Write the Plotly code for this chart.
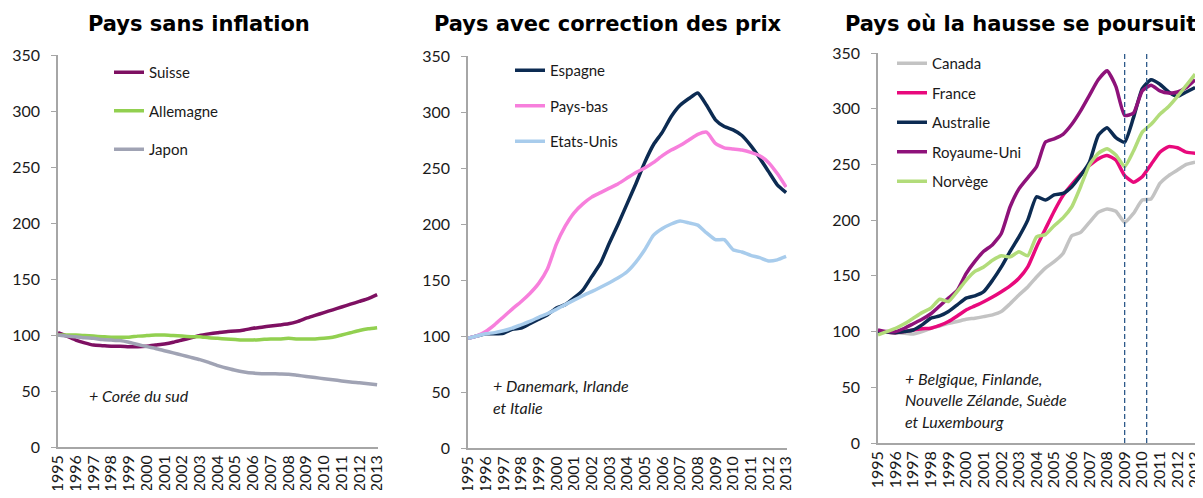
import plotly.graph_objects as go

# ---- data (half-year steps, index 1995 = 100) ----
years = [1995 + 0.5 * i for i in range(37)]
tick_years = list(range(1995, 2014))
tick_labels = [str(y) for y in tick_years]

suisse = [102, 99, 95.5, 93, 91, 90.5, 90, 90, 89.6, 89.5, 90, 91, 92, 93.5, 95.5, 97.5, 99.7, 101, 102, 103,
          103.5, 104.5, 106, 107, 108, 109, 110, 112, 115, 117.5, 120, 122.5, 125, 127.5, 130, 132.5, 136]
allemagne = [100, 100, 100, 99.5, 99, 98.5, 98, 98, 98, 99, 99.5, 100, 100, 99.5, 99, 98.5, 98.5, 97.5, 97, 96.5,
             96, 95.5, 95.5, 96, 96.5, 96.5, 97, 96.5, 96.5, 96.5, 97, 98, 100, 102, 104, 105.5, 106.5]
japon = [100, 99, 98.5, 97.5, 97, 96, 95.5, 95, 93.5, 91.5, 89.6, 88, 86, 84, 82, 80, 78, 75.5, 72.6, 70.5,
         68.5, 67, 66, 65.5, 65.4, 65.2, 65, 64, 63, 62, 61, 60, 59, 58, 57.3, 56.5, 55.6]

espagne = [98, 100, 102, 102, 102.5, 106, 107, 111, 115, 119, 125, 128, 134, 141, 153, 165, 183, 200, 218, 236,
           255, 271, 282, 296, 306, 312, 317, 306, 293, 287, 284, 279, 270, 259, 247, 235, 228]
pays_bas = [98, 100, 104, 110, 117, 124, 130.6, 138, 147, 160, 182, 198, 210, 218, 224, 228, 232, 236, 241, 246,
            250, 255, 261, 266, 270, 275, 280, 282, 272, 268, 267, 266, 264, 261, 255, 245, 233]
etats_unis = [98, 100, 102, 103, 104.7, 107, 110, 113, 116.7, 120, 123.8, 128, 132, 136, 139.6, 143.5, 147.6, 152,
              157.4, 166, 177, 190, 196, 200, 202.7, 201, 199, 192, 186, 186, 177, 175, 172, 170, 167, 168, 171]

canada = [100, 99.5, 99, 98.5, 97.8, 100, 103, 105, 107.4, 109, 111, 112, 113.4, 115, 118, 125, 132.8, 140, 149, 157,
          162.7, 170, 186, 189, 198, 207, 210, 208, 198, 206, 218, 219, 233, 240, 245, 250, 252]
france = [100, 99.5, 99, 100, 101.4, 102.5, 103, 105.5, 109, 114, 119.4, 123, 126.8, 131, 135.8, 141, 147.8, 158,
          176, 192, 208, 222, 232, 241, 249, 255, 258, 254, 240, 234, 239, 250, 261, 266, 265, 261, 260]
australie = [100, 99.5, 99, 100, 101.4, 106, 112, 114, 118, 124, 130, 132, 135.8, 146, 158, 172, 185, 200, 221, 218,
             222.6, 224, 230, 240, 252, 276, 283, 274, 270, 292, 318, 326, 322, 315, 311, 315, 319]
royaume_uni = [101.5, 100, 100, 103, 107, 111, 116, 123, 130, 137, 152, 163, 172, 178, 188, 212, 228, 238, 248, 270,
               273, 277, 286, 298, 312, 326, 334, 320, 294, 296, 316, 321, 316, 314, 315, 319, 326]
norvege = [97, 100, 103, 107, 112, 117, 121, 129, 127, 136, 146, 154, 158, 164, 168, 167, 171.7, 168, 185, 187,
           195, 202, 212, 230, 249.5, 260, 264, 258.5, 248, 262, 279, 286, 295, 302, 311, 321, 331]

ref_years = [2009.0, 2010.25]

panels = [
    ("Pays sans inflation", [("Suisse", suisse, "#7E1062"), ("Allemagne", allemagne, "#92D050"),
                             ("Japon", japon, "#A0A3B4")]),
    ("Pays avec correction des prix", [("Espagne", espagne, "#0C2B52"), ("Pays-bas", pays_bas, "#F77FDC"),
                                       ("Etats-Unis", etats_unis, "#A8CCEC")]),
    ("Pays où la hausse se poursuit", [("Canada", canada, "#C3C3C3"), ("France", france, "#E8097C"),
                                       ("Australie", australie, "#0C2B52"), ("Royaume-Uni", royaume_uni, "#8E127A"),
                                       ("Norvège", norvege, "#B2DC7A")]),
]
notes = [
    ["+ Corée du sud"],
    ["+ Danemark, Irlande", "et Italie"],
    ["+ Belgique, Finlande,", "Nouvelle Zélande, Suède", "et Luxembourg"],
]

# page body has an 8px margin: figure pixel = window pixel - OFF
OFF = 8
W, H = 1203 - OFF, 498 - 2 * OFF
# window-pixel geometry of each plot area: (x_left, x_right, y_top(350), y_bottom(0))
geo = [(58, 378, 55, 447), (468, 787, 56, 448), (878, 1196, 53, 443)]
title_x = [199, 608, 1020]
legend_pos = [(109, 56, 16), (510, 54, 13), (892, 47, 7)]
note_pos = [(1996.63, [46.4]), (1996.3, [55.4, 36.6]), (1996.41, [58.3, 38.6, 18.9])]


def px(v):
    return (v - OFF) / W


def py(v):
    return (H - (v - OFF)) / H


FONT = "Lato, Calibri, sans-serif"
fig = go.Figure()
tick_font = dict(family=FONT, size=16, color="#1a1a1a")

for i, (title, series) in enumerate(panels):
    n = i + 1
    xa = "x" if n == 1 else f"x{n}"
    ya = "y" if n == 1 else f"y{n}"
    lg = "legend" if n == 1 else f"legend{n}"
    for name, vals, col in series:
        fig.add_trace(go.Scatter(x=years, y=vals, name=name, mode="lines",
                                 line=dict(color=col, width=3.5, shape="spline", smoothing=0.5),
                                 xaxis=xa, yaxis=ya, legend=lg, legendgroup=f"{n}-{name}"))
    xl, xr, yt, yb = geo[i]
    fig.update_layout({
        f"xaxis{'' if n == 1 else n}": dict(
            domain=[px(xl), px(xr)], range=[1995, 2013.05], anchor=ya, tickmode="array",
            tickvals=tick_years, ticktext=tick_labels, tickangle=-90, showgrid=False, zeroline=False,
            showline=True, linecolor="#A6A6A6", linewidth=1.5, ticks="", automargin=False,
            ticklabeloverflow="allow",
            tickfont=dict(family=FONT, size=16, color="#1a1a1a")),
        f"yaxis{'' if n == 1 else n}": dict(
            domain=[py(yb), py(yt)], range=[0, 350], anchor=xa, tickmode="array",
            tickvals=[0, 50, 100, 150, 200, 250, 300, 350], showgrid=False, zeroline=False,
            showline=True, linecolor="#A6A6A6", linewidth=1.5, ticks="outside", ticklen=5,
            tickcolor="#A6A6A6", tickfont=tick_font, ticklabelstandoff=8, automargin=False),
    })
    lx, ly, gap = legend_pos[i]
    fig.update_layout({lg: dict(x=px(lx), y=py(ly), xanchor="left", yanchor="top",
                                bgcolor="rgba(0,0,0,0)", tracegroupgap=gap,
                                traceorder="grouped",
                                font=dict(family=FONT, size=15, color="#1a1a1a"))})
    fig.add_annotation(text=f"<b>{title}</b>", xref="paper", yref="paper",
                       x=px(title_x[i]), y=py(24),
                       xanchor="center", yanchor="middle", showarrow=False,
                       font=dict(family="DejaVu Sans, Verdana, sans-serif", size=21, color="#000000"))
    nx, nys = note_pos[i]
    for txt, yv in zip(notes[i], nys):
        fig.add_annotation(text=f"<i>{txt}</i>", xref=xa, yref=ya, x=nx, y=yv, xanchor="left",
                           yanchor="middle", showarrow=False,
                           font=dict(family=FONT, size=16, color="#1a1a1a"))

for ry in ref_years:
    fig.add_shape(type="line", xref="x3", yref="y3", x0=ry, x1=ry, y0=0, y1=355,
                  line=dict(color="#2E5A8A", width=1.3, dash="5px,3px"))

fig.update_layout(width=W, height=H, margin=dict(l=0, r=0, t=0, b=0, autoexpand=False), showlegend=True,
                  paper_bgcolor="white", plot_bgcolor="white")
fig.write_html("out.html")
